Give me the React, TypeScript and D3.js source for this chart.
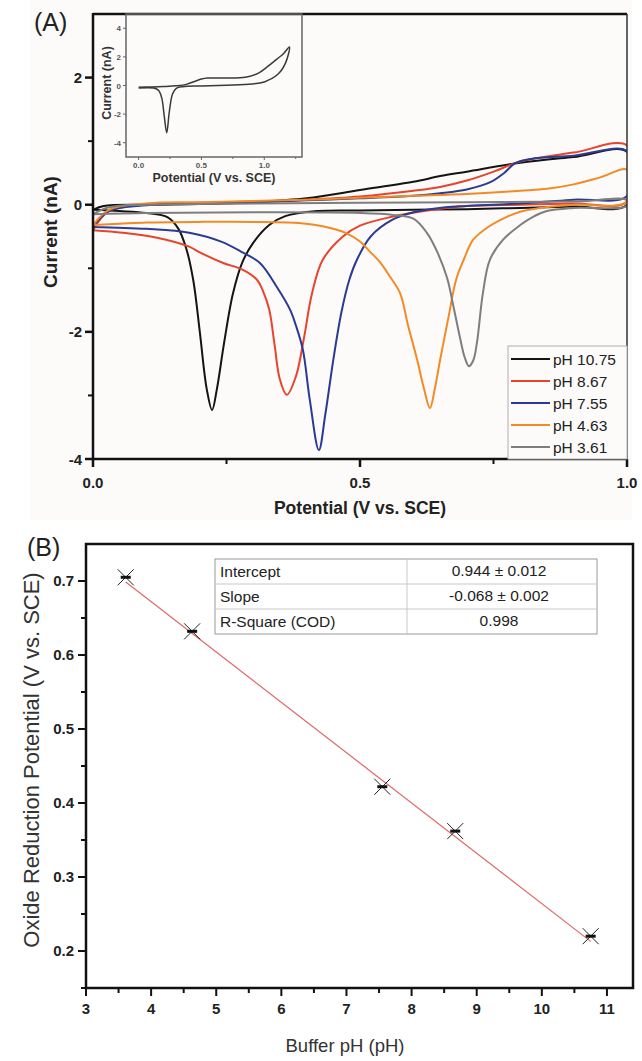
import React from 'react';
import * as d3 from 'd3';

const FONT = '"Liberation Sans", Arial, sans-serif';

// ---- panel A data: cyclic voltammograms, [potential V, current nA]
const seriesLabels = ['pH 10.75', 'pH 8.67', 'pH 7.55', 'pH 4.63', 'pH 3.61'];
const seriesColors = ['#141414', '#e8432c', '#2b3a92', '#f28a26', '#7e7e7e'];

const cvPH1075: [number, number][] = [
  [0.0, -0.08], [0.02, -0.02], [0.1, 0.0], [0.2, 0.01], [0.3, 0.04], [0.4, 0.1], [0.5, 0.23],
  [0.6, 0.36], [0.65, 0.45], [0.7, 0.52], [0.8, 0.66], [0.9, 0.75], [1.0, 0.83],
  [1.0, 0.0], [0.9, -0.03], [0.8, -0.05], [0.7, -0.07], [0.6, -0.08], [0.5, -0.09], [0.42, -0.1],
  [0.36, -0.18], [0.33, -0.32], [0.3, -0.6], [0.28, -0.9], [0.262, -1.4], [0.245, -2.2],
  [0.232, -2.9], [0.223, -3.23], [0.213, -2.9], [0.2, -2.0], [0.188, -1.2], [0.175, -0.7],
  [0.16, -0.38], [0.14, -0.2], [0.1, -0.13], [0.05, -0.1], [0.0, -0.08],
];

const cvPH867: [number, number][] = [
  [0.0, -0.4], [0.03, -0.1], [0.1, 0.0], [0.2, 0.03], [0.3, 0.05], [0.4, 0.08], [0.5, 0.13],
  [0.6, 0.22], [0.65, 0.28], [0.7, 0.38], [0.75, 0.52], [0.8, 0.68], [0.9, 0.82], [1.0, 0.93],
  [1.0, 0.05], [0.9, 0.02], [0.8, 0.0], [0.7, -0.02], [0.62, -0.1], [0.56, -0.19], [0.5, -0.33],
  [0.468, -0.5], [0.43, -0.87], [0.41, -1.4], [0.395, -2.1], [0.38, -2.7], [0.363, -2.99],
  [0.35, -2.75], [0.34, -2.2], [0.33, -1.65], [0.318, -1.35], [0.307, -1.18], [0.28, -1.02],
  [0.245, -0.92], [0.2, -0.75], [0.18, -0.66], [0.12, -0.52], [0.056, -0.44], [0.0, -0.4],
];

const cvPH755: [number, number][] = [
  [0.0, -0.35], [0.03, -0.1], [0.1, -0.01], [0.2, 0.02], [0.3, 0.04], [0.4, 0.07], [0.5, 0.1],
  [0.6, 0.14], [0.65, 0.18], [0.7, 0.24], [0.743, 0.35], [0.77, 0.5], [0.79, 0.65], [0.82, 0.72],
  [0.9, 0.77], [1.0, 0.84],
  [1.0, 0.14], [0.9, 0.08], [0.8, 0.02], [0.7, -0.02], [0.66, -0.04], [0.6, -0.12], [0.56, -0.24],
  [0.52, -0.5], [0.494, -0.87], [0.48, -1.18], [0.465, -1.7], [0.45, -2.44], [0.435, -3.3],
  [0.423, -3.86], [0.406, -3.07], [0.393, -2.28], [0.38, -1.9], [0.369, -1.65], [0.344, -1.29],
  [0.313, -0.92], [0.28, -0.75], [0.24, -0.58], [0.18, -0.44], [0.1, -0.38], [0.0, -0.35],
];

const cvPH463: [number, number][] = [
  [0.0, -0.32], [0.03, -0.08], [0.1, 0.02], [0.2, 0.04], [0.3, 0.06], [0.4, 0.08], [0.5, 0.11],
  [0.6, 0.14], [0.7, 0.17], [0.8, 0.22], [0.85, 0.25], [0.9, 0.32], [0.95, 0.43], [1.0, 0.55],
  [1.0, 0.05], [0.9, 0.0], [0.837, -0.05], [0.8, -0.11], [0.775, -0.19], [0.74, -0.35],
  [0.712, -0.55], [0.695, -0.85], [0.68, -1.18], [0.665, -1.8], [0.65, -2.44], [0.64, -2.9],
  [0.631, -3.2], [0.62, -2.9], [0.607, -2.44], [0.59, -1.9], [0.575, -1.39], [0.556, -1.13],
  [0.537, -0.9], [0.52, -0.75], [0.5, -0.58], [0.475, -0.45], [0.43, -0.34], [0.39, -0.29],
  [0.3, -0.27], [0.2, -0.27], [0.1, -0.28], [0.05, -0.3], [0.0, -0.32],
];

const cvPH361: [number, number][] = [
  [0.0, -0.15], [0.03, -0.04], [0.1, 0.0], [0.3, 0.02], [0.5, 0.03], [0.7, 0.04], [0.9, 0.05],
  [1.0, 0.07],
  [1.0, -0.02], [0.9, -0.05], [0.85, -0.1], [0.824, -0.19], [0.8, -0.32], [0.768, -0.55],
  [0.743, -0.87], [0.73, -1.4], [0.719, -2.17], [0.712, -2.45], [0.704, -2.54], [0.696, -2.4],
  [0.687, -2.08], [0.675, -1.6], [0.663, -1.15], [0.645, -0.75], [0.625, -0.44], [0.6, -0.22],
  [0.562, -0.16], [0.5, -0.13], [0.3, -0.12], [0.1, -0.13], [0.0, -0.15],
];

const cvSeries = [cvPH1075, cvPH867, cvPH755, cvPH463, cvPH361];

// inset: full-window CV
const insetCV: [number, number][] = [
  [0.0, -0.12], [0.1, -0.1], [0.2, -0.07], [0.3, -0.02], [0.38, 0.08], [0.45, 0.3], [0.5, 0.45],
  [0.55, 0.52], [0.7, 0.52], [0.85, 0.58], [0.95, 0.85], [1.03, 1.35], [1.1, 1.85], [1.15, 2.2],
  [1.2, 2.7],
  [1.17, 1.6], [1.11, 0.8], [1.0, 0.25], [0.9, 0.1], [0.7, 0.02], [0.5, -0.03], [0.35, -0.08],
  [0.3, -0.2], [0.27, -0.6], [0.245, -1.8], [0.224, -3.3], [0.205, -2.2], [0.185, -0.9],
  [0.16, -0.35], [0.12, -0.18], [0.0, -0.18],
];

const aXTicks = [0, 0.5, 1.0];
const aXMinor = [0.25, 0.75];
const aYTicks = [-4, -2, 0, 2];
const aYMinor = [-3, -1, 1];
const insetXTicks = [0, 0.5, 1.0];
const insetXMinor = [0.25, 0.75, 1.25];
const insetYTicks = [-4, -2, 0, 2, 4];

// ---- panel B data
const bufferPH = [3.61, 4.63, 7.55, 8.67, 10.75];
const reductionPotential = [0.705, 0.632, 0.422, 0.362, 0.22];
const fitIntercept = 0.944;
const fitSlope = -0.068;
const tableRows = [
  ['Intercept', '0.944 ± 0.012'],
  ['Slope', '-0.068 ± 0.002'],
  ['R-Square (COD)', '0.998'],
];
const bXTicks = [3, 4, 5, 6, 7, 8, 9, 10, 11];
const bXMinor = [3.5, 4.5, 5.5, 6.5, 7.5, 8.5, 9.5, 10.5];
const bYTicks = [0.2, 0.3, 0.4, 0.5, 0.6, 0.7];
const bYMinor = [0.15, 0.25, 0.35, 0.45, 0.55, 0.65];

export default function App() {
  // panel A scales
  const ax = d3.scaleLinear().domain([0, 1]).range([93, 627]);
  const ay = d3.scaleLinear().domain([-4, 3]).range([459, 14]);
  const ix = d3.scaleLinear().domain([-0.1, 1.3]).range([126, 302]);
  const iy = d3.scaleLinear().domain([-5, 5]).range([157, 14]);
  // panel B scales
  const bx = d3.scaleLinear().domain([3, 11.4]).range([86, 633]);
  const by = d3.scaleLinear().domain([0.15, 0.75]).range([988, 544]);

  const cvLine = d3.line<[number, number]>()
    .x(d => ax(d[0])).y(d => ay(d[1]))
    .curve(d3.curveCatmullRom.alpha(0.5));
  const insetLine = d3.line<[number, number]>()
    .x(d => ix(d[0])).y(d => iy(d[1]))
    .curve(d3.curveCatmullRom.alpha(0.5));

  const fmt1 = d3.format('.1f');
  const fitX = d3.extent(bufferPH) as [number, number];

  const legendTop = 347;
  const legendRow = 22;

  return (
    <svg width={642} height={1061} style={{ position: 'absolute', left: 0, top: 0, background: '#fff' }}
      fontFamily={FONT}>
      <defs>
        <clipPath id="clipA">
          <rect x={ax(0)} y={ay(3)} width={ax(1) - ax(0)} height={ay(-4) - ay(3)} />
        </clipPath>
      </defs>
      <rect x={30} y={0} width={602} height={520} fill="#fcfbf9" />

      {/* ---------- Panel A ---------- */}
      <text x={34} y={31} fontSize={25} fill="#222">(A)</text>

      <g clipPath="url(#clipA)">
        {cvSeries.map((s, i) => (
          <path key={i} d={cvLine(s) || ''} fill="none" stroke={seriesColors[i]} strokeWidth={2} />
        ))}
      </g>

      {/* frame */}
      <line x1={ax(0)} x2={ax(1)} y1={ay(3)} y2={ay(3)} stroke="#111" strokeWidth={2.5} />
      <line x1={ax(1)} x2={ax(1)} y1={ay(3)} y2={ay(-4)} stroke="#333" strokeWidth={1.5} />
      <line x1={ax(0)} x2={ax(0)} y1={ay(3) - 1} y2={ay(-4) + 1} stroke="#111" strokeWidth={2.5} />
      <line x1={ax(0) - 1} x2={ax(1)} y1={ay(-4)} y2={ay(-4)} stroke="#111" strokeWidth={2.5} />

      {aYTicks.map(t => (
        <g key={'ay' + t}>
          <line x1={ax(0) - 8} x2={ax(0)} y1={ay(t)} y2={ay(t)} stroke="#111" strokeWidth={2.5} />
          <text x={ax(0) - 11} y={ay(t) + 5.5} textAnchor="end" fontSize={15} fontWeight="bold" fill="#222">{t}</text>
        </g>
      ))}
      {aYMinor.map(t => (
        <line key={'aym' + t} x1={ax(0) - 5} x2={ax(0)} y1={ay(t)} y2={ay(t)} stroke="#111" strokeWidth={2} />
      ))}
      {aXTicks.map(t => (
        <g key={'ax' + t}>
          <line x1={ax(t)} x2={ax(t)} y1={ay(-4)} y2={ay(-4) + 8} stroke="#111" strokeWidth={2.5} />
          <text x={ax(t)} y={ay(-4) + 29} textAnchor="middle" fontSize={15} fontWeight="bold" fill="#222">{fmt1(t)}</text>
        </g>
      ))}
      {aXMinor.map(t => (
        <line key={'axm' + t} x1={ax(t)} x2={ax(t)} y1={ay(-4)} y2={ay(-4) + 5} stroke="#111" strokeWidth={2} />
      ))}
      <text x={ax(0.5)} y={514} textAnchor="middle" fontSize={17.5} fontWeight="bold" fill="#222">Potential (V vs. SCE)</text>
      <text transform={`translate(57,${232}) rotate(-90)`} textAnchor="middle" fontSize={19} fontWeight="bold" fill="#222">Current (nA)</text>

      {/* legend */}
      <rect x={508} y={legendTop - 1} width={ax(1) - 508} height={ay(-4) - legendTop + 1} fill="#fcfbf9" stroke="#b0b0b0" strokeWidth={1} />
      {seriesLabels.map((l, i) => (
        <g key={l}>
          <line x1={511} x2={550} y1={legendTop + 12 + i * legendRow} y2={legendTop + 12 + i * legendRow}
            stroke={seriesColors[i]} strokeWidth={2} />
          <text x={553} y={legendTop + 17.5 + i * legendRow} fontSize={15.5} fill="#222">{l}</text>
        </g>
      ))}

      {/* inset */}
      <rect x={ix(-0.1)} y={iy(5)} width={ix(1.3) - ix(-0.1)} height={iy(-5) - iy(5)} fill="none" stroke="#666" strokeWidth={1.5} />
      <path d={insetLine(insetCV) || ''} fill="none" stroke="#3a3a3a" strokeWidth={1.5} />
      {insetYTicks.map(t => (
        <g key={'iy' + t}>
          <line x1={ix(-0.1) - 3} x2={ix(-0.1)} y1={iy(t)} y2={iy(t)} stroke="#666" strokeWidth={1} />
          <text x={ix(-0.1) - 5} y={iy(t) + 3} textAnchor="end" fontSize={8} fontWeight="bold" fill="#555">{t}</text>
        </g>
      ))}
      {insetXTicks.map(t => (
        <g key={'ix' + t}>
          <line x1={ix(t)} x2={ix(t)} y1={iy(-5)} y2={iy(-5) + 3} stroke="#666" strokeWidth={1} />
          <text x={ix(t)} y={iy(-5) + 11} textAnchor="middle" fontSize={8} fontWeight="bold" fill="#555">{fmt1(t)}</text>
        </g>
      ))}
      {insetXMinor.map(t => (
        <line key={'ixm' + t} x1={ix(t)} x2={ix(t)} y1={iy(-5)} y2={iy(-5) + 2} stroke="#666" strokeWidth={1} />
      ))}
      <text x={214} y={182} textAnchor="middle" fontSize={12.5} fontWeight="bold" fill="#333">Potential (V vs. SCE)</text>
      <text transform={`translate(111,${83}) rotate(-90)`} textAnchor="middle" fontSize={12.5} fontWeight="bold" fill="#333">Current (nA)</text>

      {/* ---------- Panel B ---------- */}
      <text x={27} y={556} fontSize={25} fill="#222">(B)</text>

      <rect x={bx(3)} y={by(0.75)} width={bx(11.4) - bx(3)} height={by(0.15) - by(0.75)} fill="#fff" stroke="#111" strokeWidth={2.5} />

      {bYTicks.map(t => (
        <g key={'by' + t}>
          <line x1={bx(3) - 8} x2={bx(3)} y1={by(t)} y2={by(t)} stroke="#111" strokeWidth={2} />
          <text x={bx(3) - 12} y={by(t) + 5} textAnchor="end" fontSize={15} fontWeight="bold" fill="#222">{fmt1(t)}</text>
        </g>
      ))}
      {bYMinor.map(t => (
        <line key={'bym' + t} x1={bx(3) - 5} x2={bx(3)} y1={by(t)} y2={by(t)} stroke="#111" strokeWidth={2} />
      ))}
      {bXTicks.map(t => (
        <g key={'bx' + t}>
          <line x1={bx(t)} x2={bx(t)} y1={by(0.15)} y2={by(0.15) + 8} stroke="#111" strokeWidth={2} />
          <text x={bx(t)} y={by(0.15) + 26} textAnchor="middle" fontSize={15} fontWeight="bold" fill="#222">{t}</text>
        </g>
      ))}
      {bXMinor.map(t => (
        <line key={'bxm' + t} x1={bx(t)} x2={bx(t)} y1={by(0.15)} y2={by(0.15) + 5} stroke="#111" strokeWidth={2} />
      ))}
      <text x={345} y={1052} textAnchor="middle" fontSize={18.5} fill="#333">Buffer pH (pH)</text>
      <text transform={`translate(39,${760}) rotate(-90)`} textAnchor="middle" fontSize={22} fill="#333">Oxide Reduction Potential (V vs. SCE)</text>

      {/* fit line */}
      <line x1={bx(fitX[0])} x2={bx(fitX[1])}
        y1={by(fitIntercept + fitSlope * fitX[0])} y2={by(fitIntercept + fitSlope * fitX[1])}
        stroke="#e06666" strokeWidth={1.2} />

      {/* points: cross marker with horizontal error bar */}
      {bufferPH.map((p, i) => {
        const cx = bx(p), cy = by(reductionPotential[i]);
        return (
          <g key={'pt' + i}>
            <line x1={cx - 8} x2={cx + 8} y1={cy - 8} y2={cy + 8} stroke="#222" strokeWidth={1} />
            <line x1={cx - 8} x2={cx + 8} y1={cy + 8} y2={cy - 8} stroke="#222" strokeWidth={1} />
            <line x1={cx - 5} x2={cx + 5} y1={cy} y2={cy} stroke="#111" strokeWidth={3} />
          </g>
        );
      })}

      {/* stats table */}
      <g>
        <rect x={215} y={559} width={382} height={75} fill="#fff" stroke="#9a9a9a" strokeWidth={1} />
        {tableRows.map((r, i) => (
          <g key={r[0]}>
            {i > 0 && <line x1={215} x2={597} y1={559 + i * 25} y2={559 + i * 25} stroke="#c8c8c8" strokeWidth={1} />}
            <text x={220} y={559 + i * 25 + 18} fontSize={15.5} fill="#222">{r[0]}</text>
            <text x={499} y={559 + i * 25 + 17} fontSize={15.5} textAnchor="middle" fill="#222">{r[1]}</text>
          </g>
        ))}
        <line x1={407} x2={407} y1={559} y2={634} stroke="#c8c8c8" strokeWidth={1} />
      </g>
    </svg>
  );
}
